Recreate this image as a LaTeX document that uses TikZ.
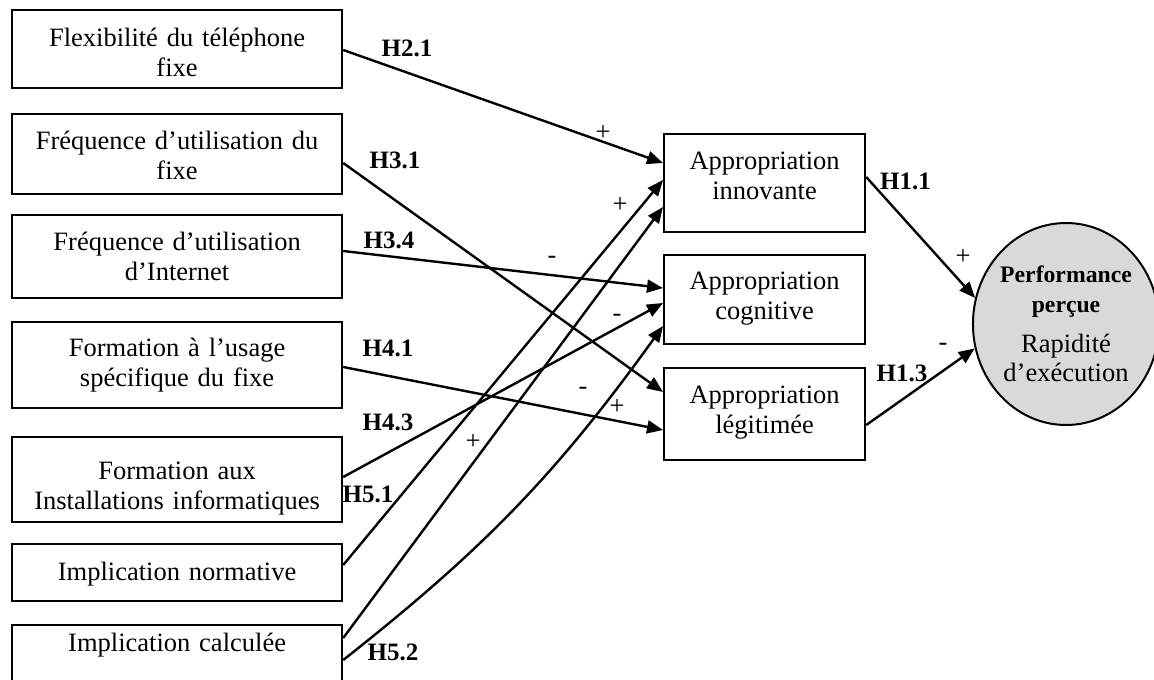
\documentclass[tikz,border=0pt]{standalone}
\usepackage{fontspec}
\setmainfont{Liberation Serif}
\usetikzlibrary{arrows.meta,shapes.geometric}
\begin{document}
\begin{tikzpicture}[x=0.5pt,y=-0.5pt,
  box/.style={draw, line width=1.1pt, inner sep=0pt, align=center, anchor=north west,
    font=\fontsize{13.25}{15}\selectfont},
  lbox/.style={box, minimum width=165pt, text width=165pt},
  mbox/.style={box, minimum width=100.5pt, text width=100.5pt},
  conn/.style={line width=1.2pt, -{Triangle[length=8pt,width=6.5pt]}},
  hlab/.style={font=\fontsize{12.5}{14}\selectfont\bfseries, inner sep=0pt},
  slab/.style={font=\fontsize{13.25}{15}\selectfont, inner sep=0pt}]
\useasboundingbox (0,0) rectangle (1154,679);

% left boxes
\node[lbox, text height=18pt, text depth=21pt] (b1) at (11,9) {Flexibilité du téléphone\\fixe};
\node[lbox, text height=17.5pt, text depth=22.5pt] (b2) at (11,113) {Fréquence d’utilisation du\\fixe};
\node[lbox, text height=17.5pt, text depth=24pt] (b3) at (11,214) {Fréquence d’utilisation\\d’Internet};
\node[lbox, text height=17pt, text depth=26pt] (b4) at (11,321) {Formation à l’usage\\spécifique du fixe};
\node[lbox, text height=21pt, text depth=21.5pt] (b5) at (11,436) {Formation aux\\Installations informatiques};
\node[lbox, text height=18pt, text depth=10.5pt] (b6) at (11,543) {Implication normative};
\node[lbox, text height=13pt, text depth=30pt] (b7) at (11,624) {Implication calculée};

% middle boxes
\node[mbox, text height=17.5pt, text depth=31.5pt] (ai) at (663,133) {Appropriation\\innovante};
\node[mbox, text height=17pt, text depth=27.5pt] (ac) at (663,254) {Appropriation\\cognitive};
\node[mbox, text height=17.5pt, text depth=28.5pt] (al) at (663,367) {Appropriation\\légitimée};

% outcome
\node[draw, line width=1pt, ellipse, fill=black!15, inner sep=0pt,
  minimum width=89pt, minimum height=101pt, align=center,
  font=\fontsize{13.25}{14.75}\selectfont] (perf) at (1066,324)
  {{\fontsize{11.85}{14.75}\selectfont\bfseries Performance}\\
   {\fontsize{11.85}{14.75}\selectfont\bfseries perçue}\\[5.25pt]
   Rapidité\\
   d’exécution};

% connectors
\draw[conn] ([yshift=-20.5pt]b1.north east) -- ([yshift=-15pt]ai.north west);
\draw[conn] ([yshift=-25pt]b2.north east) -- ([yshift=-12.5pt]al.north west);
\draw[conn] ([yshift=-18.5pt]b3.north east) -- ([yshift=-17pt]ac.north west);
\draw[conn] ([yshift=-23pt]b4.north east) -- ([yshift=-31.5pt]al.north west);
\draw[conn] ([yshift=-20.5pt]b5.north east) -- ([yshift=-24.5pt]ac.north west);
\draw[conn] ([yshift=-11pt]b6.north east) -- ([yshift=-23.5pt]ai.north west);
\draw[conn] ([yshift=-7pt]b7.north east) -- ([yshift=-37pt]ai.north west);
\draw[conn] ([yshift=-18pt]b7.north east) to[bend right=8] ([yshift=-36pt]ac.north west);
\draw[conn] ([yshift=-22pt]ai.north east) -- (perf.164);
\draw[conn] ([yshift=-29pt]al.north east) -- (perf.195);

% hypothesis labels
\node[hlab] (h21) at (407,48.5) {H2.1};
\node[hlab] (h31) at (395,160) {H3.1};
\node[hlab] (h34) at (389,240) {H3.4};
\node[hlab] (h41) at (388,348) {H4.1};
\node[hlab] (h43) at (388,422) {H4.3};
\node[hlab] (h51) at (368,494) {H5.1};
\node[hlab] (h52) at (393,652) {H5.2};
\node[hlab] (h11) at (905.5,181.5) {H1.1};
\node[hlab] (h13) at (902,373) {H1.3};

% sign labels
\node[slab] (s1) at (603,133) {+};
\node[slab] (s2) at (620,205) {+};
\node[slab] (s3) at (552,260) {-};
\node[slab] (s4) at (617,318) {-};
\node[slab] (s5) at (617,407) {+};
\node[slab] (s6) at (583,391) {-};
\node[slab] (s7) at (473,442) {+};
\node[slab] (s8) at (963,257) {+};
\node[slab] (s9) at (943,347) {-};
\end{tikzpicture}
\end{document}
